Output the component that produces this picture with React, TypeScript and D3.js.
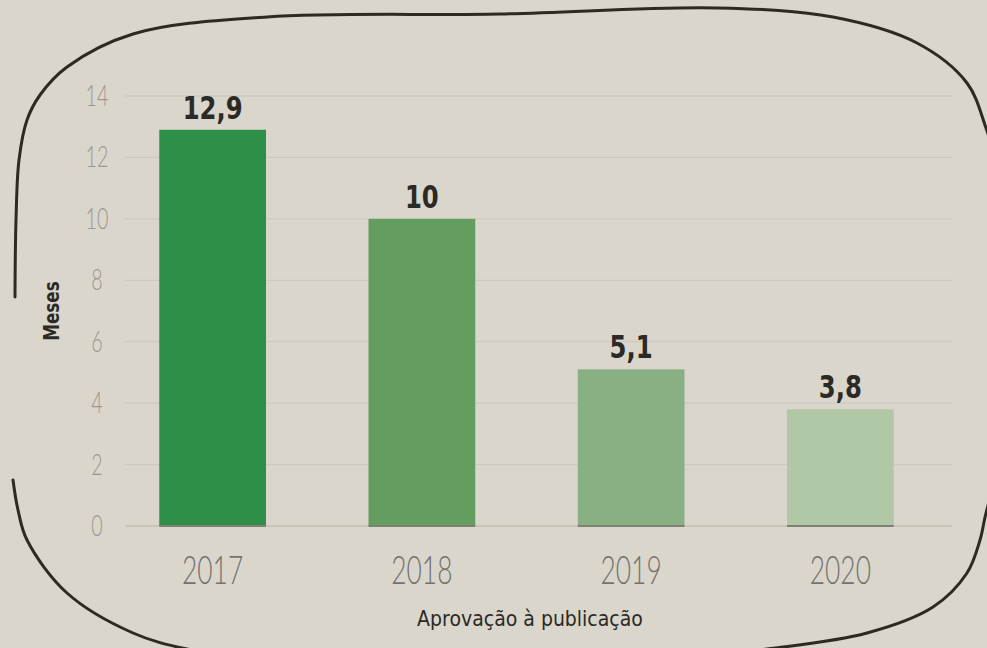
import React, { useEffect, useRef } from 'react';
import * as d3 from 'd3';

// data
const years = ['2017', '2018', '2019', '2020'];
const months = [12.9, 10, 5.1, 3.8];
const valueLabels = ['12,9', '10', '5,1', '3,8'];
const barColors = ['#2e8f48', '#649d60', '#88b083', '#b0c8a6'];
const yTicks = [0, 2, 4, 6, 8, 10, 12, 14];

// hand drawn frame (decoration)
const frameTop: [number, number][] = [
  [15, 297], [16, 220], [19, 160], [27, 120], [40, 95], [67, 67], [133, 34],
  [267, 17], [500, 14], [717, 8], [833, 17], [917, 43], [967, 83], [986, 128], [1000, 175],
];
const frameRight: [number, number][] = [
  [1003, 455], [986, 513], [980, 540], [967, 573], [933, 607], [867, 633], [767, 649], [640, 662],
];
const frameLeft: [number, number][] = [
  [13, 480], [18, 510], [27, 540], [67, 593], [133, 633], [187, 649], [280, 662],
];

const W = 987;
const H = 648;
const thin = 'Lato, Roboto, "DejaVu Sans", sans-serif';
const bold = '"DejaVu Sans", sans-serif';

export default function App() {
  const ref = useRef<SVGSVGElement | null>(null);

  useEffect(() => {
    const svg = d3.select(ref.current);
    svg.selectAll('*').remove();

    svg.append('rect').attr('width', W).attr('height', H).attr('fill', '#dad6cc');

    const x = d3.scaleBand().domain(years).range([108, 945]).paddingInner(0.49).paddingOuter(0.245);
    const y = d3.scaleLinear().domain([0, 14]).range([526, 96]);
    const cx = (k: string) => (x(k) as number) + x.bandwidth() / 2;

    // grid
    svg.append('g')
      .selectAll('line')
      .data(yTicks)
      .join('line')
      .attr('x1', 125)
      .attr('x2', 952)
      .attr('y1', (d) => y(d))
      .attr('y2', (d) => y(d))
      .attr('stroke', (d) => (d === 0 ? '#c4bfb3' : '#cdc9be'))
      .attr('stroke-width', 1.3);

    // y tick labels
    svg.append('g')
      .selectAll('text')
      .data(yTicks)
      .join('text')
      .attr('transform', (d) => `translate(97, ${y(d) + 10}) scale(0.68, 1)`)
      .attr('text-anchor', 'middle')
      .attr('font-family', thin)
      .attr('font-weight', 300)
      .attr('font-size', 29)
      .attr('fill', '#9b9891')
      .text((d) => d);

    // bars
    const bars = svg.append('g');
    bars.selectAll('rect')
      .data(months)
      .join('rect')
      .attr('x', (_, i) => x(years[i]) as number)
      .attr('y', (d) => y(d))
      .attr('width', x.bandwidth())
      .attr('height', (d) => y(0) - y(d))
      .attr('fill', (_, i) => barColors[i]);

    bars.selectAll('line')
      .data(months)
      .join('line')
      .attr('x1', (_, i) => x(years[i]) as number)
      .attr('x2', (_, i) => (x(years[i]) as number) + x.bandwidth())
      .attr('y1', y(0))
      .attr('y2', y(0))
      .attr('stroke', '#7c8170')
      .attr('stroke-width', 2);

    // value labels
    svg.append('g')
      .selectAll('text')
      .data(months)
      .join('text')
      .attr('transform', (d, i) => `translate(${cx(years[i])}, ${y(d) - 11}) scale(0.76, 1)`)
      .attr('text-anchor', 'middle')
      .attr('font-family', bold)
      .attr('font-weight', 700)
      .attr('font-size', 32)
      .attr('fill', '#2b2a26')
      .text((_, i) => valueLabels[i]);

    // year labels
    svg.append('g')
      .selectAll('text')
      .data(years)
      .join('text')
      .attr('transform', (d) => `translate(${cx(d)}, 584) scale(0.66, 1)`)
      .attr('text-anchor', 'middle')
      .attr('font-family', thin)
      .attr('font-weight', 300)
      .attr('font-size', 40)
      .attr('fill', '#75726c')
      .text((d) => d);

    // axis titles
    svg.append('text')
      .attr('transform', 'translate(530, 626) scale(0.86, 1)')
      .attr('text-anchor', 'middle')
      .attr('font-family', bold)
      .attr('font-size', 22)
      .attr('fill', '#2b2a26')
      .text('Aprovação à publicação');

    svg.append('text')
      .attr('transform', 'translate(59, 311) rotate(-90) scale(0.8, 1)')
      .attr('text-anchor', 'middle')
      .attr('font-family', bold)
      .attr('font-weight', 700)
      .attr('font-size', 21)
      .attr('fill', '#2b2a26')
      .text('Meses');

    // frame
    const line = d3.line().curve(d3.curveCatmullRom.alpha(0.5));
    [frameTop, frameRight, frameLeft].forEach((pts) => {
      svg.append('path')
        .attr('d', line(pts))
        .attr('fill', 'none')
        .attr('stroke', '#2e2a22')
        .attr('stroke-width', 3)
        .attr('stroke-linecap', 'round');
    });
  }, []);

  return (
    <svg
      ref={ref}
      width={W}
      height={H}
      style={{ position: 'absolute', left: 0, top: 0, display: 'block' }}
    />
  );
}
